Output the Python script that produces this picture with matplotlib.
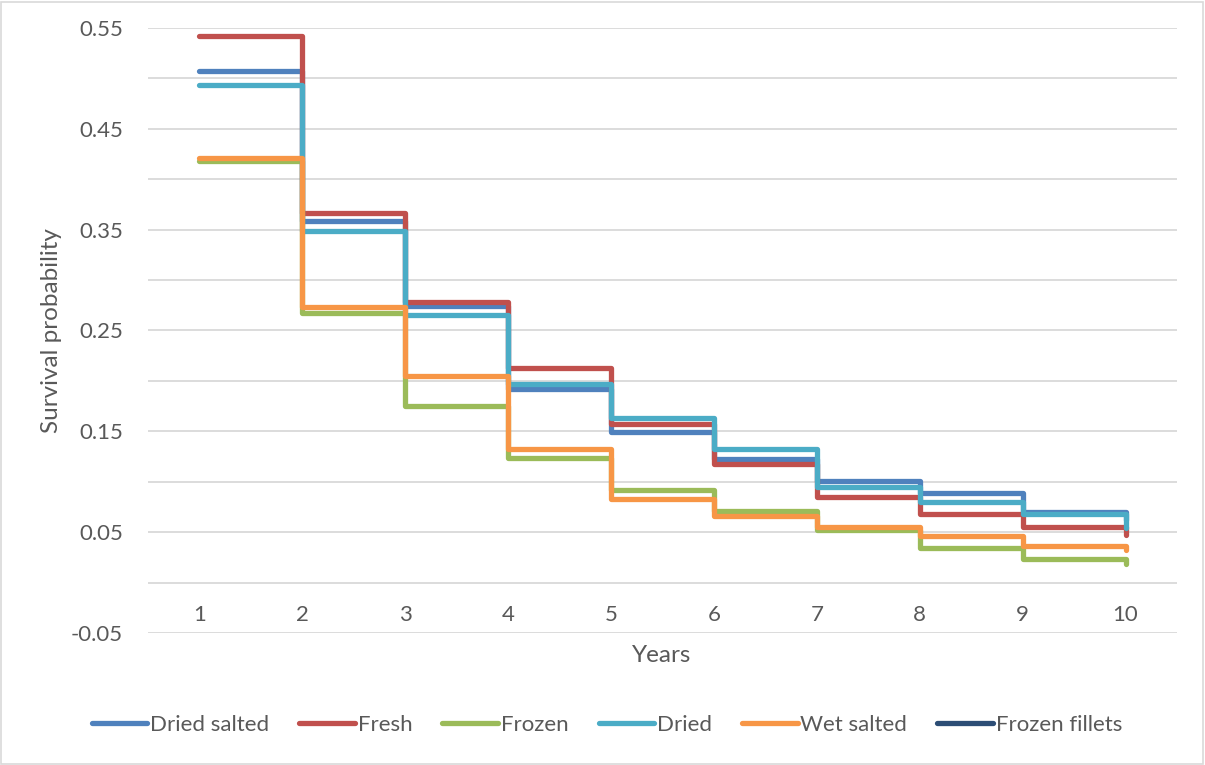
import matplotlib
matplotlib.use("Agg")
import matplotlib.pyplot as plt
from matplotlib.patches import Rectangle
from matplotlib.lines import Line2D

# Survival probability by year for each product form
years = [1, 2, 3, 4, 5, 6, 7, 8, 9, 10]
dried_salted = [0.507, 0.359, 0.274, 0.192, 0.149, 0.123, 0.101, 0.089, 0.070, 0.062]
fresh = [0.542, 0.367, 0.278, 0.213, 0.157, 0.118, 0.085, 0.068, 0.055, 0.047]
frozen = [0.418, 0.267, 0.175, 0.124, 0.092, 0.071, 0.052, 0.034, 0.023, 0.018]
dried = [0.493, 0.349, 0.265, 0.197, 0.163, 0.132, 0.095, 0.080, 0.068, 0.054]
wet_salted = [0.421, 0.273, 0.205, 0.132, 0.083, 0.066, 0.055, 0.046, 0.036, 0.032]
frozen_fillets = []

series_names = ["Dried salted", "Fresh", "Frozen", "Dried", "Wet salted", "Frozen fillets"]
series_values = [dried_salted, fresh, frozen, dried, wet_salted, frozen_fillets]
colors = ["#4F81BD", "#C0504D", "#9BBB59", "#4BACC6", "#F79646", "#2C4D75"]

y_major = [-0.05, 0.05, 0.15, 0.25, 0.35, 0.45, 0.55]
y_minor = [0.0, 0.10, 0.20, 0.30, 0.40, 0.50]

TEXT = "#595959"
GRID = "#D9D9D9"
FONT = "Lato"
TICK_SIZE = 16
TITLE_SIZE = 17.5
LW = 3.8

fig = plt.figure(figsize=(12.05, 7.65), dpi=100)
ax = fig.add_axes([148 / 1205, 1 - 633 / 765, (1177 - 148) / 1205, (633 - 28) / 765])

ax.set_xlim(0.5, 10.5)
ax.set_ylim(-0.05, 0.55)

for name, vals, c in zip(series_names, series_values, colors):
    if len(vals) == 0:
        continue
    ax.step(years, vals, where="post", color=c, lw=LW,
            solid_capstyle="round", solid_joinstyle="round", zorder=3)

ax.set_yticks(y_major)
ax.set_yticklabels([f"{v:.2f}" for v in y_major], fontsize=TICK_SIZE, color=TEXT, family=FONT)
ax.set_yticks(y_minor, minor=True)
ax.grid(True, axis="y", which="both", color=GRID, lw=1.3, zorder=0)
ax.tick_params(axis="y", which="both", length=0, pad=18)
ax.set_xticks([])
for s in ax.spines.values():
    s.set_visible(False)

# category labels sit just under the zero line
for yr in years:
    ax.text(yr, -0.0325, str(yr), ha="center", va="center",
            fontsize=TICK_SIZE, color=TEXT, family=FONT)

fig.text(662 / 1205, 1 - 656 / 765, "Years", ha="center", va="center",
         fontsize=TITLE_SIZE, color=TEXT, family=FONT)
fig.text(52 / 1205, 1 - 331 / 765, "Survival probability", ha="center", va="center",
         rotation=90, fontsize=TITLE_SIZE, color=TEXT, family=FONT)

handles = [Line2D([0], [0], color=c, lw=LW, solid_capstyle="round") for c in colors]
leg = fig.legend(handles, series_names, loc="center", bbox_to_anchor=(607 / 1205, 1 - 725 / 765),
                 ncol=6, frameon=False, handlelength=2.5, handletextpad=0.13,
                 columnspacing=1.35, prop={"family": FONT, "size": TICK_SIZE})
for t in leg.get_texts():
    t.set_color(TEXT)

fig.patches.append(Rectangle((1 / 1205, 1 / 765), 1 - 3 / 1205, 1 - 3 / 765,
                             transform=fig.transFigure, fill=False,
                             edgecolor=GRID, lw=1.2))

fig.savefig("out.png", dpi=100, facecolor="white")
